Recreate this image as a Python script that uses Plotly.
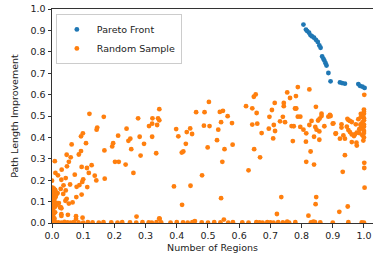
import plotly.graph_objects as go

# Pareto front (blue)
pareto_x = [0.806, 0.814, 0.818, 0.824, 0.829, 0.834, 0.840, 0.846, 0.852, 0.857,
            0.861, 0.866, 0.870, 0.873, 0.877, 0.880, 0.886, 0.893, 0.923, 0.930,
            0.939, 0.982, 0.987, 0.995, 1.002]
pareto_y = [0.927, 0.904, 0.897, 0.889, 0.877, 0.872, 0.866, 0.856, 0.846, 0.830,
            0.819, 0.778, 0.767, 0.759, 0.747, 0.736, 0.701, 0.662, 0.657, 0.654,
            0.651, 0.649, 0.641, 0.637, 0.631]

# Random sample (orange) - scattered points
random_x = [0.120, 0.166, 0.344, 0.145, 0.143, 0.099, 0.093, 0.063, 0.109, 0.212,
            0.239, 0.276, 0.322, 0.340, 0.311, 0.321, 0.337, 0.281, 0.251, 0.245,
            0.321, 0.196, 0.193, 0.254, 0.295, 0.168, 0.093, 0.086, 0.047, 0.060,
            0.284, 0.334, 0.344,
            0.503, 0.462, 0.489, 0.538, 0.548, 0.563, 0.622, 0.642, 0.647, 0.653,
            0.656, 0.398, 0.443, 0.432, 0.449, 0.405, 0.487, 0.505, 0.542, 0.577,
            0.533, 0.642, 0.658, 0.672, 0.429, 0.529, 0.499, 0.553, 0.579, 0.648,
            0.421, 0.416, 0.667,
            0.788, 0.825, 1.001, 0.754, 0.782, 0.763, 0.714, 0.743, 0.743, 0.779,
            0.783, 0.705, 0.846, 0.864, 0.864, 0.697, 0.740, 0.788, 0.796, 0.886,
            0.891, 0.858, 0.853, 0.832, 0.731, 0.747, 0.711, 0.768, 0.775, 0.796,
            0.825, 0.844, 0.873, 0.900, 0.695, 0.715, 0.806, 0.815, 0.848, 0.857,
            0.909, 0.709, 0.840, 0.857, 0.772, 0.814, 0.829, 0.939,
            0.893, 0.902, 0.910, 0.928, 0.928, 0.950, 0.955, 0.961, 0.974, 0.945,
            0.950, 0.955, 0.961, 0.934, 0.923, 0.939, 0.961, 0.968, 0.977, 0.985,
            0.989, 0.982, 1.001, 1.001, 0.977, 0.976, 0.947, 0.971,
            1.000, 1.000, 1.000, 0.995, 1.000, 1.000, 0.995, 1.000, 1.000, 0.995,
            1.000, 1.000, 0.995, 1.000, 0.990, 0.990, 0.985, 0.990, 0.998,
            0.009, 0.054, 0.031, 0.048, 0.011, 0.019, 0.030, 0.044, 0.073, 0.095,
            0.112, 0.127, 0.118, 0.137, 0.142, 0.169, 0.100, 0.097, 0.088, 0.079,
            0.113, 0.058, 0.037, 0.028, 0.044, 0.018, 0.036, 0.095, 0.078, 0.047,
            0.054, 0.066, 0.043, 0.022, 0.028, 0.030, 0.026, 0.030, 0.030, 0.051,
            0.077, 0.077, 0.098, 0.271, 0.202, 0.214, 0.236, 0.261, 0.344, 0.000,
            0.391, 0.417, 0.444, 0.481, 0.542, 0.546, 0.630, 0.345, 0.551, 0.458,
            0.815, 0.840, 0.932, 1.002, 0.735, 0.847, 0.845, 0.948, 0.921, 0.721,
            0.822, 0.754, 0.838]
random_y = [0.510, 0.496, 0.532, 0.446, 0.436, 0.419, 0.405, 0.367, 0.373, 0.408,
            0.441, 0.489, 0.489, 0.489, 0.453, 0.464, 0.458, 0.403, 0.394, 0.384,
            0.403, 0.373, 0.358, 0.345, 0.370, 0.339, 0.336, 0.320, 0.319, 0.307,
            0.315, 0.326, 0.480,
            0.566, 0.518, 0.518, 0.519, 0.524, 0.499, 0.546, 0.536, 0.590, 0.601,
            0.514, 0.439, 0.442, 0.425, 0.416, 0.405, 0.455, 0.453, 0.471, 0.467,
            0.436, 0.460, 0.464, 0.420, 0.370, 0.387, 0.353, 0.345, 0.366, 0.345,
            0.334, 0.329, 0.307,
            0.635, 0.624, 0.599, 0.610, 0.593, 0.584, 0.561, 0.561, 0.546, 0.535,
            0.535, 0.528, 0.543, 0.511, 0.500, 0.496, 0.496, 0.497, 0.497, 0.497,
            0.505, 0.488, 0.479, 0.477, 0.475, 0.471, 0.458, 0.453, 0.452, 0.449,
            0.458, 0.449, 0.452, 0.464, 0.441, 0.430, 0.436, 0.419, 0.436, 0.428,
            0.417, 0.395, 0.403, 0.389, 0.383, 0.380, 0.334, 0.317,
            0.500, 0.466, 0.419, 0.461, 0.446, 0.481, 0.477, 0.472, 0.461, 0.450,
            0.434, 0.425, 0.414, 0.409, 0.394, 0.394, 0.378, 0.406, 0.422, 0.438,
            0.461, 0.485, 0.281, 0.257, 0.362, 0.375, 0.487, 0.414,
            0.530, 0.520, 0.510, 0.500, 0.490, 0.480, 0.470, 0.460, 0.450, 0.440,
            0.430, 0.420, 0.410, 0.400, 0.495, 0.455, 0.420, 0.510, 0.385,
            0.289, 0.286, 0.249, 0.265, 0.234, 0.223, 0.202, 0.210, 0.226, 0.262,
            0.257, 0.270, 0.234, 0.221, 0.199, 0.207, 0.204, 0.192, 0.177, 0.169,
            0.168, 0.180, 0.176, 0.159, 0.152, 0.140, 0.136, 0.133, 0.121, 0.113,
            0.091, 0.096, 0.104, 0.093, 0.074, 0.069, 0.072, 0.041, 0.033, 0.038,
            0.032, 0.019, 0.025, 0.030, 0.286, 0.286, 0.273, 0.234, 0.022, 0.198,
            0.171, 0.085, 0.174, 0.223, 0.116, 0.286, 0.246, 0.019, 0.016, 0.009,
            0.286, 0.273, 0.239, 0.165, 0.121, 0.121, 0.088, 0.077, 0.052, 0.042,
            0.034, 0.006, 0.006]

# Random sample - dense cluster at very few regions
cluster_x = [0.002, 0.006, 0.010, 0.004, 0.012, 0.002, 0.008, 0.004, 0.011, 0.001,
             0.007, 0.003, 0.012, 0.005, 0.001, 0.009, 0.004, 0.002, 0.010, 0.006,
             0.001, 0.004, 0.008, 0.002, 0.005, 0.001, 0.013, 0.015]
cluster_y = [0.165, 0.160, 0.155, 0.150, 0.145, 0.140, 0.135, 0.125, 0.120, 0.115,
             0.110, 0.100, 0.095, 0.090, 0.080, 0.075, 0.065, 0.055, 0.050, 0.045,
             0.035, 0.030, 0.020, 0.015, 0.010, 0.005, 0.130, 0.085]

# Random sample - points with (almost) no improvement
bottom_x = [0.000, 0.010, 0.020, 0.030, 0.040, 0.050, 0.060, 0.070, 0.085, 0.100,
            0.115, 0.130, 0.150, 0.165, 0.190, 0.210, 0.225, 0.250, 0.270, 0.290,
            0.310, 0.320, 0.335, 0.350, 0.380, 0.400, 0.420, 0.435, 0.450, 0.480,
            0.500, 0.520, 0.540, 0.565, 0.580, 0.610, 0.630, 0.655, 0.665, 0.675,
            0.690, 0.700, 0.710, 0.725, 0.740, 0.760, 0.780, 0.830, 0.835, 0.843,
            0.860, 0.900, 0.950, 0.993, 1.000]
bottom_y = [0.002, 0.004, 0.003, 0.002, 0.005, 0.003, 0.002, 0.004, 0.003, 0.002,
            0.004, 0.003, 0.002, 0.004, 0.003, 0.002, 0.004, 0.003, 0.002, 0.004,
            0.003, 0.002, 0.004, 0.003, 0.002, 0.004, 0.003, 0.002, 0.004, 0.003,
            0.002, 0.004, 0.003, 0.002, 0.004, 0.003, 0.002, 0.004, 0.003, 0.002,
            0.004, 0.003, 0.002, 0.004, 0.003, 0.002, 0.004, 0.003, 0.002, 0.004,
            0.003, 0.002, 0.004, 0.003, 0.002]

x_ticks = [0.0, 0.1, 0.2, 0.3, 0.4, 0.5, 0.6, 0.7, 0.8, 0.9, 1.0]
y_ticks = [0.0, 0.1, 0.2, 0.3, 0.4, 0.5, 0.6, 0.7, 0.8, 0.9, 1.0]

all_rx = random_x + cluster_x + bottom_x
all_ry = random_y + cluster_y + bottom_y

FONT = "DejaVu Sans"

fig = go.Figure()
fig.add_trace(go.Scatter(x=pareto_x, y=pareto_y, mode="markers", name="Pareto Front",
                         marker=dict(color="#1f77b4", size=4.8, line=dict(width=0))))
fig.add_trace(go.Scatter(x=all_rx, y=all_ry, mode="markers", name="Random Sample",
                         marker=dict(color="#ff7f0e", size=4.8, line=dict(width=0))))

axis_common = dict(
    showgrid=False, zeroline=False, showline=True, linecolor="#333333", linewidth=1,
    ticks="outside", ticklen=3.5, tickwidth=1, tickcolor="#333333",
    tickfont=dict(family=FONT, size=9.5, color="#222"), tickformat=".1f",
    automargin=False,
)

fig.update_layout(
    width=373, height=256,
    margin=dict(l=52, r=0, t=9, b=33),
    paper_bgcolor="white", plot_bgcolor="white",
    font=dict(family=FONT, size=9.5, color="#222"),
    showlegend=True,
    legend=dict(x=0.012, y=0.977, xanchor="left", yanchor="top",
                bgcolor="rgba(255,255,255,0.8)", bordercolor="#cccccc", borderwidth=1,
                font=dict(family=FONT, size=9.5, color="#222"),
                itemwidth=30, tracegroupgap=0),
)
fig.update_xaxes(range=[0, 1.029], tickvals=x_ticks, mirror=True,
                 title=dict(text="Number of Regions", standoff=4,
                            font=dict(family=FONT, size=9.5, color="#222")),
                 **axis_common)
fig.update_yaxes(range=[0, 1.0], tickvals=y_ticks, mirror=False,
                 title=dict(text="Path Length Improvement", standoff=10,
                            font=dict(family=FONT, size=9.5, color="#222")),
                 **axis_common)

fig.write_html("out.html",
               config={"displayModeBar": False},
               post_script="document.body.style.margin='0';document.body.style.overflow='hidden';")
